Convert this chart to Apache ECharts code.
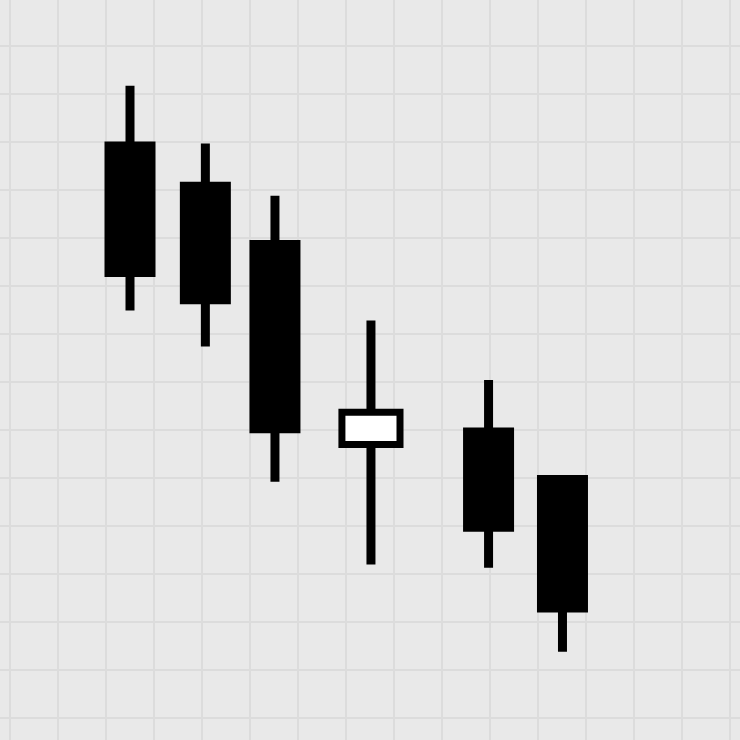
<!DOCTYPE html>
<html>
<head>
<meta charset="utf-8">
<script src="https://cdn.jsdelivr.net/npm/echarts@6/dist/echarts.min.js"></script>
<style>
  html, body { margin: 0; padding: 0; background: #e9e9e9; overflow: hidden; width: 740px; height: 740px; }
  #chart { position: absolute; left: -38px; top: -2px; width: 816px; height: 768px; }
</style>
</head>
<body>
<div id="chart"></div>
<script>
// Candle positions (x, in grid cells) and OHLC values
const xPos   = [2.5,   4.07,  5.52,  7.52, 9.97, 11.51];
const openV  = [120.1, 111.7, 99.6,  57.0, 60.5, 50.6];
const closeV = [91.9,  86.2,  59.3,  63.7, 38.8, 22.0];
const lowV   = [84.9,  77.4,  49.2,  32.0, 31.3, 13.8];
const highV  = [131.7, 119.7, 108.8, 82.8, 70.4, 50.6];

const data = xPos.map((x, i) => [x, openV[i], closeV[i], lowV[i], highV[i]]);

function renderItem(params, api) {
  const x = api.value(0), o = api.value(1), c = api.value(2), l = api.value(3), h = api.value(4);
  const cell = api.size([1, 0])[0];
  const pH = api.coord([x, h]);
  const pL = api.coord([x, l]);
  const pO = api.coord([x, o]);
  const pC = api.coord([x, c]);
  const up = c > o;
  const wickW = 9;
  const bodyW = up ? cell * 1.21 : cell * 1.0625;
  const top = Math.min(pO[1], pC[1]);
  const bot = Math.max(pO[1], pC[1]);
  return {
    type: 'group',
    children: [
      { type: 'rect', shape: { x: pH[0] - wickW / 2, y: pH[1], width: wickW, height: pL[1] - pH[1] }, style: { fill: '#000' } },
      { type: 'rect', shape: { x: pO[0] - bodyW / 2, y: top, width: bodyW, height: bot - top },
        style: up ? { fill: '#ffffff', stroke: '#000', lineWidth: 7 } : { fill: '#000' } }
    ]
  };
}

const chart = echarts.init(document.getElementById('chart'), null, { renderer: 'canvas' });
chart.setOption({
  backgroundColor: '#e9e9e9',
  animation: false,
  grid: { left: 0, right: 0, top: 0, bottom: 0 },
  xAxis: {
    type: 'value', min: -1, max: 16, interval: 1,
    axisLine: { show: false }, axisTick: { show: false }, axisLabel: { show: false },
    splitLine: { show: true, lineStyle: { color: '#dcdcdc', width: 2 } }
  },
  yAxis: {
    type: 'value', min: -10, max: 150, interval: 10,
    axisLine: { show: false }, axisTick: { show: false }, axisLabel: { show: false },
    splitLine: { show: true, lineStyle: { color: '#dcdcdc', width: 2 } }
  },
  series: [{
    type: 'custom',
    renderItem: renderItem,
    data: data,
    encode: { x: 0, y: [1, 2, 3, 4] },
    clip: false
  }]
});
</script>
</body>
</html>
